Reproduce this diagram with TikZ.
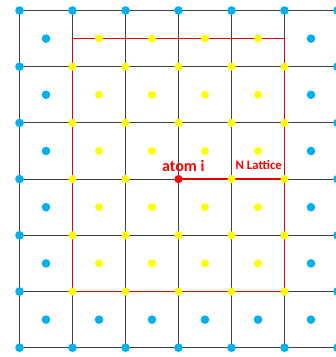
\documentclass[tikz,border=0pt]{standalone}
\usepackage{fontspec}
\setmainfont{Carlito}
\definecolor{dotblue}{HTML}{00B0F0}
\definecolor{dotyellow}{HTML}{FFFF00}
\definecolor{lblred}{HTML}{FF0000}
\begin{document}
\begin{tikzpicture}[x=1pt,y=-1pt,
  gridline/.style={draw=black!75, line width=1.1pt},
  redline/.style={draw=lblred!90!black, line width=1.6pt},
  bdot/.style={circle, fill=dotblue, inner sep=0pt, minimum size=8.6pt},
  ydot/.style={circle, fill=dotyellow, inner sep=0pt, minimum size=8pt},
  rdot/.style={circle, fill=lblred, inner sep=0pt, minimum size=8.2pt},
  lbl/.style={text=lblred, inner sep=0pt, anchor=base}]
\useasboundingbox (0,0) rectangle (336,357);
\clip (0,0) rectangle (336,357);
% grid
\foreach \i in {0,...,6}
  \draw[gridline] ({19.5+\i*53},10.5) -- ({19.5+\i*53},347.7);
\foreach \j in {0,...,6}
  \draw[gridline] (19.5,{10.5+\j*56.2}) -- (345,{10.5+\j*56.2});
% N lattice box
\draw[redline] (72.5,38.6) rectangle (284.5,291.5);
\coordinate (ai) at (178.5,179.1);
\coordinate (re) at (284.5,179.1);
\draw[redline] (ai) -- (re);
% vertex dots
\foreach \i in {0,...,6}{
  \foreach \j in {0,...,6}{
    \pgfmathtruncatemacro\kind{(\i==3 && \j==3) ? 2 : ((\i>0 && \i<6 && \j>0 && \j<6) ? 1 : 0)}
    \ifcase\kind
      \node[bdot] (v-\i-\j) at ({19.5+\i*53},{10.5+\j*56.2}) {};
    \or
      \node[ydot] (v-\i-\j) at ({19.5+\i*53},{10.5+\j*56.2}) {};
    \or
      \node[rdot] (atom) at ({19.5+\i*53},{10.5+\j*56.2}) {};
    \fi
  }
}
% cell-centre dots
\foreach \i in {0,...,5}{
  \foreach \j in {0,...,5}{
    \pgfmathtruncatemacro\kind{(\i>0 && \i<5 && \j<5) ? 1 : 0}
    \ifcase\kind
      \node[bdot] (c-\i-\j) at ({46+\i*53},{38.6+\j*56.2}) {};
    \or
      \node[ydot] (c-\i-\j) at ({46+\i*53},{38.6+\j*56.2}) {};
    \fi
  }
}
% labels
\node[lbl, font=\fontsize{16}{18}\selectfont\bfseries] (atomlbl) at (183.3,171.5) {atom i};
\node[lbl, font=\fontsize{12.8}{15}\selectfont\bfseries] (nlat) at (258.7,169.3) {N Lattice};
\end{tikzpicture}
\end{document}
